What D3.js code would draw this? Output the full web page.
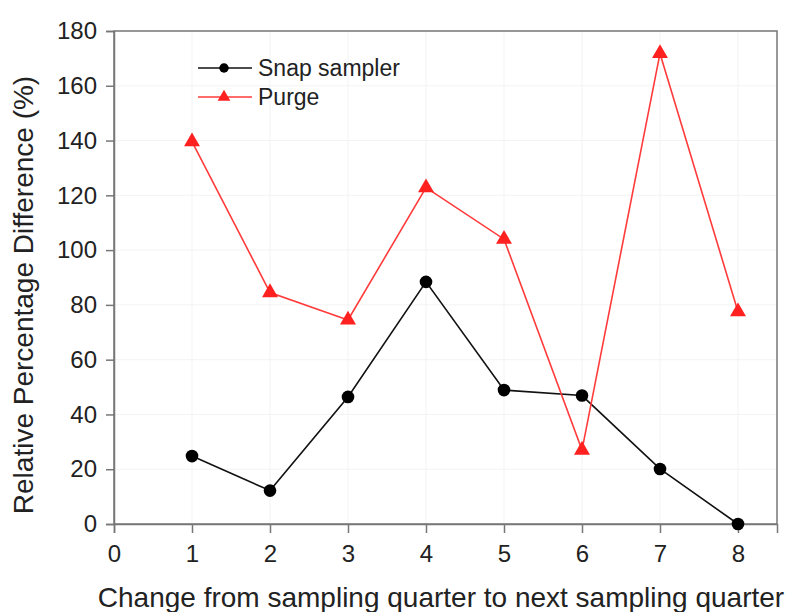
<!DOCTYPE html>
<html>
<head>
<meta charset="utf-8">
<script src="https://cdn.jsdelivr.net/npm/d3@7"></script>
<style>
  body { margin: 0; background: #fff; }
  svg { font-family: "Liberation Sans", Arial, sans-serif; }
</style>
</head>
<body>
<svg width="788" height="612"></svg>
<script>
const quarters = [1, 2, 3, 4, 5, 6, 7, 8];
const snapValues = [24.8, 12.2, 46.4, 88.4, 48.9, 46.9, 20.1, 0];
const purgeValues = [139.6, 84.5, 74.5, 122.8, 104, 27, 171.8, 77.5];
const xTicks = [0, 1, 2, 3, 4, 5, 6, 7, 8];
const yTicks = [0, 20, 40, 60, 80, 100, 120, 140, 160, 180];

const series = [
    {name: 'Snap sampler', values: snapValues, color: '#000000', lineColor: '#111', symbol: d3.symbolCircle},
    {name: 'Purge', values: purgeValues, color: '#ff2020', lineColor: '#ff3b3b', symbol: d3.symbolTriangle}
];

const svg = d3.select("svg");
const margin = {left: 114, right: 11, top: 31, bottom: 88};
const width = 788 - margin.left - margin.right,
    height = 612 - margin.top - margin.bottom;

const g = svg.append('g')
    .attr('transform', `translate(${margin.left},${margin.top})`);

const x = d3.scaleLinear().domain([0, 8.5]).range([0, width]);
const y = d3.scaleLinear().domain([0, 180]).range([height, 0]);

// faint grid
g.append('g').selectAll('line')
    .data(xTicks.slice(1))
    .enter().append('line')
    .attr('x1', d => x(d)).attr('x2', d => x(d))
    .attr('y1', 0).attr('y2', height)
    .attr('stroke', '#f3f3f3');
g.append('g').selectAll('line')
    .data(yTicks.slice(1))
    .enter().append('line')
    .attr('x1', 0).attr('x2', width)
    .attr('y1', d => y(d)).attr('y2', d => y(d))
    .attr('stroke', '#f3f3f3');

// frame
g.append('rect')
    .attr('width', width).attr('height', height)
    .attr('fill', 'none')
    .attr('stroke', '#777').attr('stroke-width', 1.5);

const xAxis = g.append('g')
    .attr('transform', `translate(0,${height})`)
    .call(d3.axisBottom(x).tickValues(xTicks).tickSize(9).tickPadding(12).tickFormat(d3.format('d')));
const yAxis = g.append('g')
    .call(d3.axisLeft(y).tickValues(yTicks).tickSize(8).tickPadding(9).tickFormat(d3.format('d')));

[xAxis, yAxis].forEach(a => {
    a.attr('font-size', 24).attr('font-family', '"Liberation Sans", Arial, sans-serif');
    a.select('.domain').attr('stroke', '#777').attr('stroke-width', 1.5);
    a.selectAll('.tick line').attr('stroke', '#777').attr('stroke-width', 1.5);
    a.selectAll('.tick text').attr('fill', '#222');
});

const line = d3.line()
    .x((d, i) => x(quarters[i]))
    .y(d => y(d));

for(const s of series) {
    g.append('path')
        .datum(s.values)
        .attr('fill', 'none')
        .attr('stroke', s.lineColor)
        .attr('stroke-width', 1.6)
        .attr('d', line);

    g.append('g').selectAll('path')
        .data(s.values)
        .enter().append('path')
        .attr('transform', (d, i) => `translate(${x(quarters[i])},${y(d)})`)
        .attr('d', d3.symbol().type(s.symbol).size(s.symbol === d3.symbolCircle ? 125 : 110))
        .attr('fill', s.color);
}

// legend
const legend = svg.append('g').attr('transform', 'translate(198,68)');
series.forEach((s, i) => {
    const row = legend.append('g').attr('transform', `translate(0,${i * 29})`);
    row.append('line')
        .attr('x1', 0).attr('x2', 54)
        .attr('stroke', s.lineColor).attr('stroke-width', 1.6);
    row.append('path')
        .attr('transform', 'translate(26,0)')
        .attr('d', d3.symbol().type(s.symbol).size(s.symbol === d3.symbolCircle ? 70 : 70))
        .attr('fill', s.color);
    row.append('text')
        .attr('x', 60).attr('dy', '0.35em')
        .attr('font-size', 23)
        .attr('fill', '#222')
        .text(s.name);
});

// axis titles
svg.append('text')
    .attr('x', 441).attr('y', 607)
    .attr('text-anchor', 'middle')
    .attr('font-size', 28)
    .attr('fill', '#222')
    .text('Change from sampling quarter to next sampling quarter');

svg.append('text')
    .attr('transform', 'translate(33,295) rotate(-90)')
    .attr('text-anchor', 'middle')
    .attr('font-size', 28)
    .attr('fill', '#222')
    .text('Relative Percentage Difference (%)');
</script>
</body>
</html>
